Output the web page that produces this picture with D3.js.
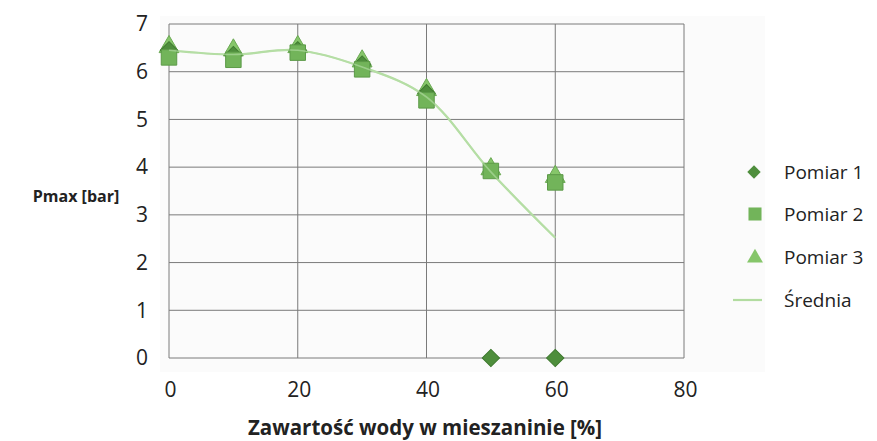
<!DOCTYPE html>
<html><head><meta charset="utf-8">
<script src="https://cdn.jsdelivr.net/npm/d3@7"></script>
<style>body{margin:0;background:#fff}svg text{font-family:"Open Sans",sans-serif;fill:#222}</style>
</head><body><svg id="c" width="877" height="441"></svg>
<script>
const xValues=[0,10,20,30,40,50,60];
const pomiar1=[6.45,6.35,6.45,6.15,5.55,0,0];
const pomiar2=[6.3,6.25,6.4,6.05,5.4,3.92,3.68];
const pomiar3=[6.52,6.45,6.52,6.22,5.62,3.96,3.8];
const srednia=[6.45,6.36,6.45,6.1,5.47,3.9,2.52];
const xTicks=[0,20,40,60,80];
const yTicks=[0,1,2,3,4,5,6,7];
const seriesNames=["Pomiar 1","Pomiar 2","Pomiar 3","Średnia"];

const svg=d3.select("#c");
const x=d3.scaleLinear().domain([0,80]).range([169,684]);
const y=d3.scaleLinear().domain([0,7]).range([358,24]);

svg.append("rect").attr("x",160).attr("y",16).attr("width",605).attr("height",356).attr("fill","#fbfbfb");

const g=svg.append("g");
g.selectAll(".hg").data(yTicks).join("line").attr("x1",x(0)).attr("x2",x(80)).attr("y1",d=>y(d)).attr("y2",d=>y(d)).attr("stroke","#7a7a7a").attr("stroke-width",1);
g.selectAll(".vg").data(xTicks).join("line").attr("y1",y(0)).attr("y2",y(7)).attr("x1",d=>x(d)).attr("x2",d=>x(d)).attr("stroke","#7a7a7a").attr("stroke-width",1);

const ya=d3.axisLeft(y).tickValues(yTicks).tickFormat(d3.format("d")).tickSize(0).tickPadding(0);
svg.append("g").attr("transform","translate(148,0)").call(ya).call(s=>{s.select(".domain").remove();s.selectAll("text").attr("font-size",21).attr("fill","#222").attr("font-family","'Open Sans',sans-serif");});
const xa=d3.axisBottom(x).tickValues(xTicks).tickFormat(d3.format("d")).tickSize(0).tickPadding(0);
svg.append("g").attr("transform","translate(1,382)").call(xa).call(s=>{s.select(".domain").remove();s.selectAll("text").attr("font-size",21).attr("fill","#222").attr("font-family","'Open Sans',sans-serif");});

svg.append("text").attr("x",76).attr("y",202).attr("text-anchor","middle").attr("font-size",16).attr("font-weight","bold").text("Pmax [bar]");
svg.append("text").attr("x",425).attr("y",435).attr("text-anchor","middle").attr("font-size",20.5).attr("font-weight","bold").text("Zawartość wody w mieszaninie [%]");

const line=d3.line().x((d,i)=>x(xValues[i])).y(d=>y(d)).curve(d3.curveCatmullRom);
svg.append("path").datum(srednia).attr("d",line).attr("fill","none").attr("stroke","#b2dca0").attr("stroke-width",2.2);

const sym=(type,size)=>d3.symbol().type(type).size(size)();
function drawMarkers(vals,type,size,fill,stroke,rot){
  svg.append("g").selectAll("path").data(vals).join("path")
   .attr("d",sym(type,size))
   .attr("transform",(d,i)=>`translate(${x(xValues[i])},${y(d)})${rot?` rotate(${rot})`:""}`)
   .attr("fill",fill).attr("stroke",stroke).attr("stroke-width",1);
}
drawMarkers(pomiar3,d3.symbolTriangle,170,"#86c66a","#6aa953",0);
drawMarkers(pomiar1,d3.symbolSquare,150,"#4e8e3c","#3f7a30",45);
drawMarkers(pomiar2,d3.symbolSquare,240,"#72b45a","#5c9a48",0);
svg.append("path").datum(srednia).attr("d",line).attr("fill","none").attr("stroke","#b8e0a8").attr("stroke-width",1.6).attr("opacity",0.6);

const leg=svg.append("g");
const ly=[172,214,257,300];
leg.append("path").attr("d",sym(d3.symbolSquare,90)).attr("transform",`translate(754,${ly[0]}) rotate(45)`).attr("fill","#4e8e3c");
leg.append("path").attr("d",sym(d3.symbolSquare,170)).attr("transform",`translate(755,${ly[1]})`).attr("fill","#72b45a");
leg.append("path").attr("d",sym(d3.symbolTriangle,110)).attr("transform",`translate(755,${ly[2]+1})`).attr("fill","#86c66a");
leg.append("line").attr("x1",733).attr("x2",762).attr("y1",ly[3]).attr("y2",ly[3]).attr("stroke","#b2dca0").attr("stroke-width",2.2);
leg.selectAll("text").data(seriesNames).join("text").attr("x",784).attr("y",(d,i)=>ly[i]+7).attr("font-size",19).attr("fill","#333").text(d=>d);
</script></body></html>
